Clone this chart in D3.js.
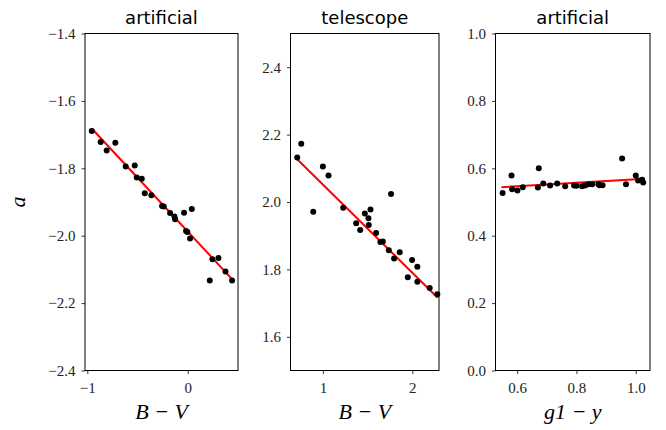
<!DOCTYPE html>
<html>
<head>
<meta charset="utf-8">
<script src="https://cdn.jsdelivr.net/npm/d3@7"></script>
<style>
  html, body { margin: 0; padding: 0; background: #fff; }
  svg { display: block; }
  svg text.serif { font-family: "Liberation Serif", "DejaVu Serif", serif !important; }
</style>
</head>
<body>
<script>
// Panel 1: artificial, B-V vs a
const art1X = [-0.956, -0.867, -0.807, -0.721, -0.618, -0.528, -0.508, -0.458, -0.428, -0.362,
  -0.256, -0.239, -0.176, -0.133, -0.126, -0.037, 0.040, -0.017, -0.004, 0.023,
  0.219, 0.245, 0.305, 0.375, 0.441];
const art1Y = [-1.689, -1.722, -1.747, -1.724, -1.795, -1.792, -1.827, -1.831, -1.874, -1.880,
  -1.912, -1.913, -1.933, -1.943, -1.951, -1.932, -1.921, -1.986, -1.989, -2.008,
  -2.133, -2.070, -2.066, -2.106, -2.133];
const art1Fit = { x: [-0.956, 0.448], y: [-1.682, -2.131] };

// Panel 2: telescope, B-V vs a
const telX = [0.713, 0.758, 0.892, 1.000, 1.063, 1.227, 1.372, 1.417, 1.469, 1.509,
  1.532, 1.513, 1.595, 1.643, 1.670, 1.737, 1.762, 1.796, 1.859, 1.949,
  1.997, 2.056, 2.056, 2.194, 2.279];
const telY = [2.132, 2.173, 1.971, 2.105, 2.079, 1.983, 1.937, 1.917, 1.966, 1.952,
  1.978, 1.932, 1.908, 1.881, 1.883, 1.857, 2.024, 1.832, 1.851, 1.777,
  1.828, 1.808, 1.763, 1.745, 1.726];
const telFit = { x: [0.713, 2.283], y: [2.127, 1.716] };

// Panel 3: artificial, g1-y vs a
const art2X = [0.551, 0.581, 0.583, 0.601, 0.619, 0.670, 0.673, 0.688, 0.711, 0.735,
  0.762, 0.792, 0.800, 0.819, 0.829, 0.841, 0.853, 0.874, 0.878, 0.888,
  0.954, 0.967, 1.000, 1.008, 1.021, 1.025];
const art2Y = [0.527, 0.579, 0.538, 0.534, 0.544, 0.543, 0.600, 0.555, 0.549, 0.555,
  0.547, 0.549, 0.548, 0.547, 0.549, 0.553, 0.553, 0.553, 0.550, 0.550,
  0.629, 0.553, 0.579, 0.564, 0.566, 0.558];
const art2Fit = { x: [0.547, 1.031], y: [0.544, 0.569] };

const titles = ["artificial", "telescope", "artificial"];
const xLabels = ["B − V", "B − V", "g1 − y"];
const xTicks = [[-1, 0], [1, 2], [0.6, 0.8, 1.0]];
const yTicks = [[-2.4, -2.2, -2.0, -1.8, -1.6, -1.4], [1.6, 1.8, 2.0, 2.2, 2.4], [0.0, 0.2, 0.4, 0.6, 0.8, 1.0]];
const xDomains = [[-1.023, 0.5], [0.638, 2.298], [0.527, 1.048]];
const yDomains = [[-2.4, -1.4], [1.5, 2.5], [0.0, 1.0]];
const yTickFormats = [d3.format(".1f"), d3.format(".1f"), d3.format(".1f")];
const xTickFormats = [d3.format("d"), d3.format("d"), d3.format(".1f")];

const panels = [
  { xs: art1X, ys: art1Y, fit: art1Fit, left: 85, right: 238 },
  { xs: telX, ys: telY, fit: telFit, left: 290.5, right: 439 },
  { xs: art2X, ys: art2Y, fit: art2Fit, left: 495.5, right: 650 }
];
const plotTop = 33.5, plotBottom = 370.5;

const svg = d3.select("body").append("svg").attr("width", 666).attr("height", 430);

const minus = s => s.replace("-", "\u2212");

panels.forEach((p, i) => {
  const x = d3.scaleLinear().domain(xDomains[i]).range([p.left, p.right]);
  const y = d3.scaleLinear().domain(yDomains[i]).range([plotBottom, plotTop]);
  const g = svg.append("g");

  // fitted line
  g.append("path")
    .datum(d3.zip(p.fit.x, p.fit.y))
    .attr("fill", "none").attr("stroke", "#ff0000").attr("stroke-width", 2)
    .attr("d", d3.line().x(d => x(d[0])).y(d => y(d[1])));

  // points
  g.selectAll("circle").data(d3.zip(p.xs, p.ys)).join("circle")
    .attr("cx", d => x(d[0])).attr("cy", d => y(d[1])).attr("r", 3).attr("fill", "#000");

  // axes
  const xa = g.append("g").attr("transform", `translate(0,${plotBottom})`)
    .call(d3.axisBottom(x).tickValues(xTicks[i]).tickSize(3.5).tickPadding(5)
      .tickFormat(d => minus(xTickFormats[i](d))));
  const ya = g.append("g").attr("transform", `translate(${p.left},0)`)
    .call(d3.axisLeft(y).tickValues(yTicks[i]).tickSize(3.5).tickPadding(6)
      .tickFormat(d => minus(yTickFormats[i](d))));
  [xa, ya].forEach(a => {
    a.attr("font-size", 15);
    a.select(".domain").remove();
    a.selectAll(".tick line").attr("stroke", "#000").attr("stroke-width", 0.8);
    a.selectAll(".tick text").classed("serif", true).attr("fill", "#222");
  });
  xa.selectAll(".tick text").attr("dy", "0.95em");

  // frame
  g.append("rect").attr("x", p.left).attr("y", plotTop)
    .attr("width", p.right - p.left).attr("height", plotBottom - plotTop)
    .attr("fill", "none").attr("stroke", "#000").attr("stroke-width", 1);

  // title and x label
  const cx = (p.left + p.right) / 2;
  g.append("text").attr("x", cx).attr("y", 24)
    .style("font-family", "'DejaVu Sans', sans-serif").attr("font-size", 18)
    .attr("text-anchor", "middle").text(titles[i]);
  g.append("text").attr("class", "serif").attr("x", cx).attr("y", 419)
    .attr("font-style", "italic").attr("font-size", 22)
    .attr("text-anchor", "middle").text(xLabels[i]);
});

svg.append("text").attr("class", "serif")
  .attr("transform", "translate(25,202) rotate(-90)")
  .attr("font-style", "italic").attr("font-size", 22)
  .attr("text-anchor", "middle").text("a");
</script>
</body>
</html>
